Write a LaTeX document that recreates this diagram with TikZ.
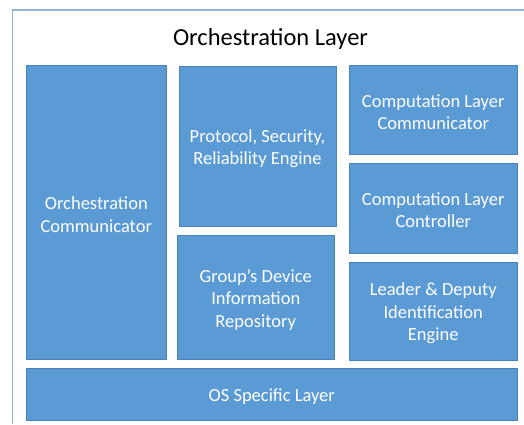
\documentclass[tikz,border=0pt]{standalone}
\usepackage{fontspec}
\setmainfont{Carlito}
\definecolor{boxfill}{HTML}{5B9BD5}
\definecolor{boxline}{HTML}{4A82BA}
\definecolor{framecol}{HTML}{92B3D3}
\begin{document}
\begin{tikzpicture}[x=1bp,y=-1bp,
  block/.style={draw=boxline, line width=0.8bp, fill=boxfill,
    anchor=north west, inner sep=0pt, outer sep=0pt},
  blocktext/.style={text=white, inner sep=0pt, align=center, yshift=-2.2bp,
    font=\fontsize{18.5bp}{22.5bp}\selectfont},
  titletext/.style={font=\fontsize{24.5bp}{29bp}\selectfont, text=black, inner sep=0pt}]
  \useasboundingbox (0,0) rectangle (524,424);
  % outer frame (open at right and bottom)
  \coordinate (fbl) at (12.5,424);
  \coordinate (ftl) at (12.5,10);
  \coordinate (ftr) at (524,10);
  \draw[framecol, line width=1.2bp] (fbl) -- (ftl) -- (ftr);
  \node[titletext] (title) at (270.5,38.5) {Orchestration Layer};
  % component blocks
  \node[block, minimum width=140.5bp, minimum height=294bp] (oc) at (26,65.5) {};
  \node[block, minimum width=157bp, minimum height=160bp] (pse) at (179,66.5) {};
  \node[block, minimum width=157.5bp, minimum height=124bp] (gdir) at (177,235.5) {};
  \node[block, minimum width=168.5bp, minimum height=89.5bp] (clcomm) at (349,65) {};
  \node[block, minimum width=168.5bp, minimum height=90bp] (clctrl) at (349,163) {};
  \node[block, minimum width=168.5bp, minimum height=97.5bp] (lead) at (349,262.5) {};
  \node[block, minimum width=491.5bp, minimum height=51.5bp] (os) at (26,368.5) {};
  % block captions
  \node[blocktext] (octxt) at (oc.center) {Orchestration\\Communicator};
  \node[blocktext] (psetxt) at (pse.center) {Protocol, Security,\\Reliability Engine};
  \node[blocktext] (gdirtxt) at (gdir.center) {Group’s Device\\Information\\Repository};
  \node[blocktext] (clcommtxt) at (clcomm.center) {Computation Layer\\Communicator};
  \node[blocktext] (clctrltxt) at (clctrl.center) {Computation Layer\\Controller};
  \node[blocktext] (leadtxt) at (lead.center) {Leader \& Deputy\\Identification\\Engine};
  \node[blocktext] (ostxt) at (os.center) {OS Specific Layer};
\end{tikzpicture}
\end{document}
